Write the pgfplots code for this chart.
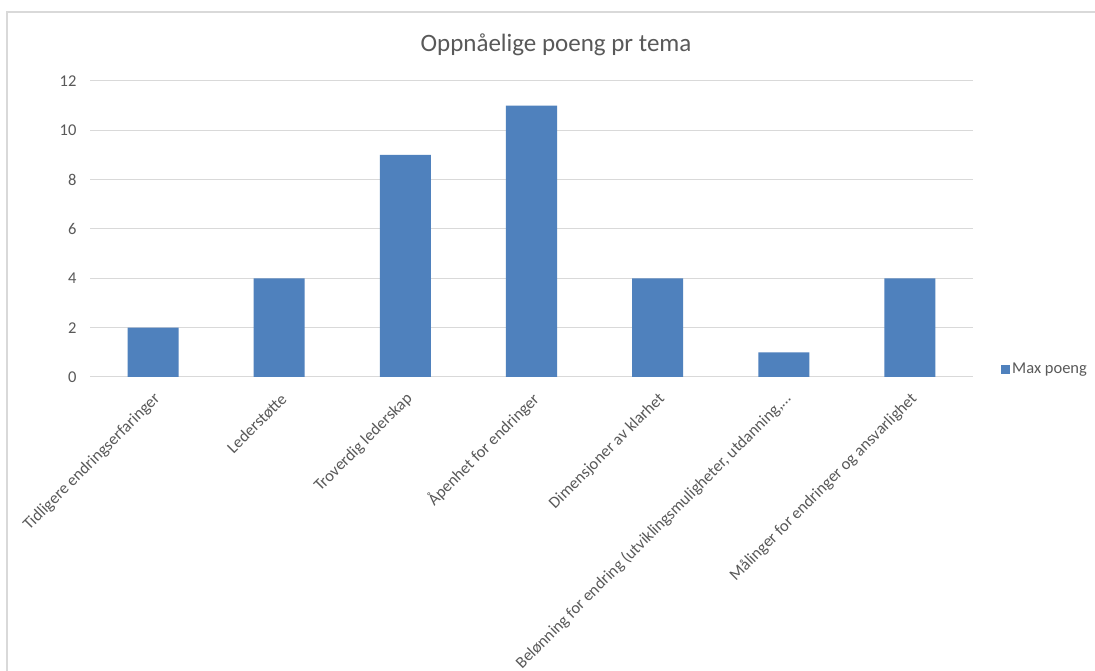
\documentclass[border=0pt]{standalone}
\usepackage{pgfplots}
\pgfplotsset{compat=1.18}
\usepackage{fontspec}
\setmainfont{Carlito}
\definecolor{barblue}{HTML}{4F81BD}
\definecolor{txtgray}{HTML}{595959}
\definecolor{gridgray}{HTML}{D9D9D9}

\begin{document}
\begin{tikzpicture}[x=1pt,y=1pt]
  \useasboundingbox (0,0) rectangle (1095,671);
  \fill[white] (0,0) rectangle (1095,671);
  % chart frame
  \draw[gridgray, line width=1.6pt] (7,0) -- (7,659) -- (1095,659);
  % title
  \node[txtgray, font=\fontsize{25}{30}\selectfont] at (556,626) {Oppnåelige poeng pr tema};
  \begin{axis}[
    at={(90pt,294pt)}, anchor=south west,
    scale only axis, width=883pt, height=296pt,
    ybar, bar width=51pt,
    xmin=-0.5, xmax=6.5, ymin=0, ymax=12,
    ytick={0,2,...,12}, xtick={0,...,6},
    xticklabels={
      {Tidligere endringserfaringer},
      {Lederstøtte},
      {Troverdig lederskap},
      {Åpenhet for endringer},
      {Dimensjoner av klarhet},
      {Belønning for endring (utviklingsmuligheter, utdanning,…},
      {Målinger for endringer og ansvarlighet}},
    ymajorgrids, grid style={gridgray, line width=1pt},
    axis line style={draw=none},
    major tick length=0pt,
    tick label style={txtgray, font=\fontsize{16.5}{20}\selectfont},
    yticklabel style={xshift=-10pt},
    xticklabel style={xshift=7pt, yshift=-17pt, rotate=45, anchor=east},
    /pgf/number format/assume math mode=true,
    legend style={draw=none, fill=none, inner sep=0pt,
      at={(1.0317,0.027)}, anchor=west,
      font=\fontsize{16.5}{20}\selectfont, text=txtgray},
  ]
    \addplot[fill=barblue, draw=none,
      legend image code/.code={\fill[barblue] (0pt,-4.5pt) rectangle (9pt,4.5pt);}]
      coordinates {(0,2) (1,4) (2,9) (3,11) (4,4) (5,1) (6,4)};
    \addlegendentry{Max poeng}
  \end{axis}
\end{tikzpicture}
\end{document}
